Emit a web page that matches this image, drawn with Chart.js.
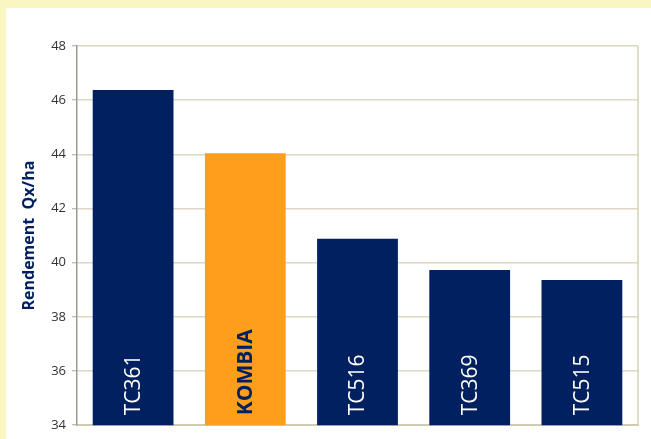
<!DOCTYPE html>
<html>
<head>
<meta charset="utf-8">
<script src="https://cdn.jsdelivr.net/npm/chart.js@4.4.0/dist/chart.umd.min.js"></script>
<style>
  html, body { margin: 0; padding: 0; background: #faf6c2; overflow: hidden; }
  #box { position: absolute; left: 6px; top: 8px; width: 645px; height: 431px; background: #fff; }
</style>
</head>
<body>
<div id="box"><canvas id="grafico" width="645" height="431"></canvas></div>
<script>
// datos
var categorias = ['TC361', 'KOMBIA', 'TC516', 'TC369', 'TC515'];
var rendement = [46.38, 44.04, 40.88, 39.73, 39.36];
var colores = ['#00205f', '#fe9e1d', '#00205f', '#00205f', '#00205f'];
var yTicks = [34, 36, 38, 40, 42, 44, 46, 48];

// etiquetas verticales dentro de las barras + borde derecho
var etiquetasBarras = {
    id: 'etiquetasBarras',
    afterDatasetsDraw: function (chart) {
        var ctx = chart.ctx;
        var area = chart.chartArea;
        var xs = chart.scales.x;
        // borde derecho del area
        ctx.save();
        ctx.strokeStyle = '#d6d1b4';
        ctx.lineWidth = 1.5;
        ctx.beginPath();
        ctx.moveTo(area.right, area.top);
        ctx.lineTo(area.right, area.bottom);
        ctx.stroke();
        ctx.restore();

        categorias.forEach(function (cat, i) {
            var x = xs.getPixelForValue(i);
            var esKombia = cat === 'KOMBIA';
            ctx.save();
            ctx.translate(x, area.bottom - 10);
            ctx.rotate(-Math.PI / 2);
            ctx.font = (esKombia ? 'bold ' : '') + '21px "Open Sans", "Noto Sans", sans-serif';
            ctx.fillStyle = esKombia ? '#00205f' : '#ffffff';
            ctx.textAlign = 'left';
            ctx.textBaseline = 'middle';
            ctx.fillText(cat, 0, 1);
            ctx.restore();
        });
    }
};

var ctx = document.getElementById('grafico').getContext('2d');
var miGrafico = new Chart(ctx, {
    type: 'bar',
    data: {
        labels: categorias,
        datasets: [{
            data: rendement,
            backgroundColor: colores,
            borderWidth: 0,
            barPercentage: 0.72,
            categoryPercentage: 1
        }]
    },
    options: {
        responsive: false,
        animation: false,
        devicePixelRatio: 1,
        layout: { padding: { top: 38, right: 13, bottom: 11, left: 14 } },
        plugins: {
            legend: { display: false },
            tooltip: { enabled: false }
        },
        scales: {
            x: {
                grid: { display: false, drawTicks: false },
                border: { color: '#d0cbb0', width: 2 },
                ticks: { display: false }
            },
            y: {
                min: 34,
                max: 48,
                afterBuildTicks: function (axis) {
                    axis.ticks = yTicks.map(function (v) { return { value: v }; });
                },
                afterFit: function (axis) { axis.width = 57; },
                grid: {
                    color: '#dcd8c4',
                    lineWidth: 1.5,
                    tickLength: 5,
                    tickColor: '#a8a8a0',
                    tickWidth: 1
                },
                border: { color: '#9a9a92', width: 1.5 },
                ticks: {
                    color: '#333333',
                    font: { family: '"Open Sans", "Noto Sans", sans-serif', size: 13 },
                    padding: 6
                },
                title: {
                    display: true,
                    text: 'Rendement  Qx/ha',
                    color: '#00205f',
                    font: { family: '"Open Sans", "Noto Sans", sans-serif', size: 16, weight: 'bold' },
                    padding: { top: 0, bottom: 4 }
                }
            }
        }
    },
    plugins: [etiquetasBarras]
});
</script>
</body>
</html>
